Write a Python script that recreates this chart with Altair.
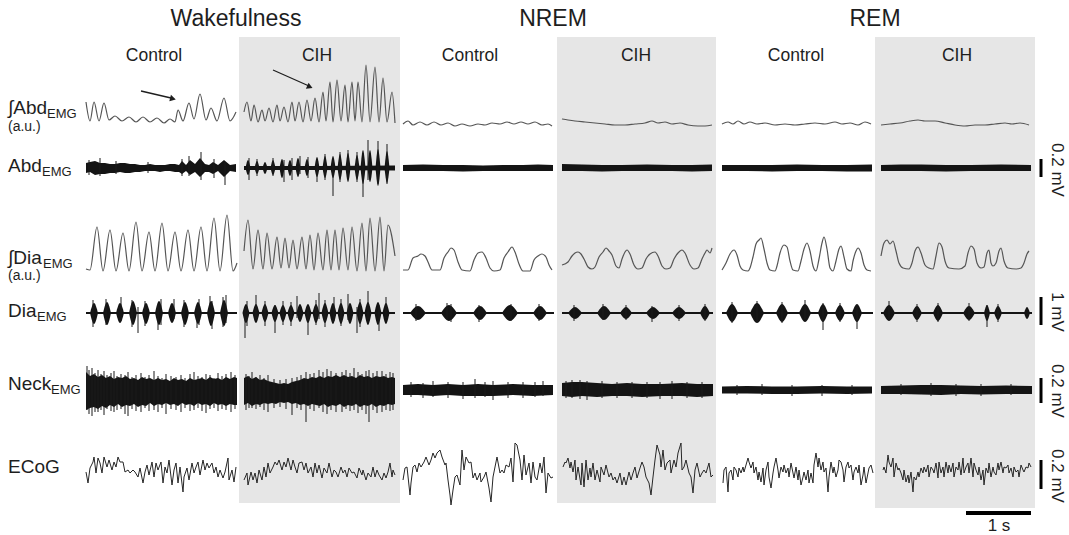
import altair as alt
import pandas as pd

W, H = 1069, 535
FONT = "Liberation Sans"
INK = "#1e1e1e"

# ---------------- data (time in samples, 65 samples = 1 s; amplitude in a.u., up = positive)
SAMPLES_PER_S = 65

# integrated abdominal EMG (vertices)
WAKE_CTRL_ABD_INT = [(0,20),(4,1),(8,20),(13,1),(18,19),(23,2),(29,6),(36,1),(43,5),(50,0),(57,5),(64,0),(71,4),(78,-1),(84,3),(89,0),(92,12),(97,1),(103,19),(108,3),(114,28),(120,2),(125,14),(131,1),(138,24),(144,1),(150,10)]
WAKE_CIH_ABD_INT = [(0,10),(3,20),(7,1),(10,17),(14,0),(18,12),(21,1),(25,14),(29,0),(33,17),(36,1),(40,15),(44,0),(48,20),(51,1),(55,20),(59,0),(63,22),(67,1),(71,24),(75,0),(79,30),(82,1),(86,40),(89,0),(93,42),(97,1),(101,37),(104,0),(108,40),(111,1),(114,40),(118,0),(122,57),(126,0),(131,55),(135,0),(139,44),(143,0),(148,30),(151,-1)]
NREM_CTRL_ABD_INT = [(0,-2),(5,1),(10,-3),(17,0),(24,-3),(31,0),(38,-3),(45,-1),(52,-4),(59,-2),(67,-4),(75,-2),(82,-3),(89,-1),(97,-2),(104,0),(111,-2),(118,0),(125,-2),(132,0),(139,-3),(145,-2),(149,-4)]
NREM_CIH_ABD_INT = [(0,3),(6,2),(13,1),(23,0),(33,-1),(43,-2),(53,-3),(63,-3),(73,-2),(83,-1),(90,1),(96,-1),(103,0),(110,-2),(118,-1),(126,-3),(136,-4),(143,-4),(150,-3)]
REM_CTRL_ABD_INT = [(0,-2),(6,0),(11,-2),(16,1),(22,-2),(28,0),(35,-2),(43,-1),(53,-3),(63,-2),(73,-3),(83,-2),(93,-1),(103,-2),(113,0),(120,-2),(128,-1),(136,-3),(143,0),(149,-2)]
REM_CIH_ABD_INT = [(0,-3),(9,-2),(19,-1),(29,1),(37,2),(44,1),(54,1),(64,-1),(74,-3),(84,-4),(94,-3),(104,-3),(114,-2),(124,-1),(131,-2),(139,-1),(148,-3)]

# integrated diaphragm EMG (vertices)
WAKE_CTRL_DIA_INT = [(0,2),(4,1),(11,44),(17,0),(24,41),(30,0),(37,38),(43,0),(50,49),(56,0),(63,39),(69,0),(76,48),(82,0),(89,39),(95,0),(102,41),(108,0),(115,44),(121,0),(128,53),(134,0),(141,56),(147,0),(151,8)]
WAKE_CIH_DIA_INT = [(0,20),(4,51),(9,2),(14,41),(19,2),(23,38),(28,2),(33,34),(37,3),(41,33),(45,3),(49,31),(53,2),(58,34),(62,2),(66,36),(70,1),(74,38),(79,1),(83,41),(87,1),(91,41),(95,1),(99,43),(104,1),(108,44),(113,0),(118,48),(122,0),(126,53),(131,0),(136,54),(140,0),(144,46),(151,15)]
NREM_CTRL_DIA_INT = [(0,1),(5,1),(10,13),(15,15),(18,17),(22,15),(25,9),(29,1),(37,1),(41,13),(45,19),(48,23),(51,21),(55,9),(59,1),(67,0),(71,11),(75,18),(79,19),(83,13),(87,3),(91,0),(97,1),(101,13),(105,19),(109,24),(112,19),(116,7),(120,0),(127,0),(131,11),(135,15),(139,17),(143,14),(146,6),(149,1)]
NREM_CIH_DIA_INT = [(0,6),(6,9),(10,15),(13,18),(16,19),(19,17),(22,12),(26,4),(30,2),(33,4),(37,14),(41,19),(44,23),(47,20),(50,16),(54,5),(57,3),(60,12),(63,19),(65,21),(68,17),(72,6),(76,2),(80,3),(84,12),(88,17),(93,19),(96,15),(100,5),(104,2),(108,3),(112,12),(116,18),(120,21),(123,18),(128,6),(132,2),(136,3),(140,12),(143,18),(145,21),(148,18),(150,23)]
REM_CTRL_DIA_INT = [(0,1),(4,8),(8,17),(12,21),(15,16),(18,5),(21,1),(26,0),(28,3),(31,14),(34,27),(37,31),(39,33),(42,22),(45,8),(48,1),(53,0),(55,5),(58,18),(62,26),(65,24),(68,10),(71,1),(76,0),(79,10),(82,22),(85,28),(88,20),(91,5),(94,0),(97,12),(100,28),(102,34),(105,22),(108,3),(111,0),(114,10),(117,22),(119,25),(122,14),(125,2),(129,0),(131,10),(134,20),(136,23),(139,18),(142,6),(145,1),(149,0)]
REM_CIH_DIA_INT = [(0,15),(3,28),(6,31),(9,27),(12,30),(15,20),(18,8),(22,3),(28,2),(31,8),(34,20),(37,24),(40,18),(44,6),(48,3),(52,2),(55,15),(58,28),(61,24),(64,10),(68,3),(78,2),(84,5),(87,18),(90,25),(93,22),(96,8),(100,3),(103,4),(106,18),(108,21),(110,8),(112,5),(115,8),(118,20),(120,23),(123,10),(127,3),(135,2),(140,3),(143,8),(146,17),(148,20)]

# ECoG (vertices)
WAKE_CTRL_ECOG = [(0,-2),(2,-13),(4,2),(7,8),(8,13),(10,-3),(12,12),(14,7),(16,-3),(18,13),(21,3),(23,10),(26,0),(28,8),(30,3),(32,13),(34,8),(37,8),(39,-2),(42,0),(44,-3),(47,0),(49,-2),(52,-7),(54,2),(57,-13),(59,-2),(61,5),(63,-5),(66,8),(68,-7),(70,7),(72,0),(75,8),(77,-13),(79,3),(81,-3),(83,10),(86,-15),(88,0),(90,7),(92,-13),(94,3),(97,-22),(98,-7),(101,2),(103,-10),(106,7),(108,-3),(110,3),(112,8),(114,-5),(117,10),(119,0),(121,7),(123,2),(126,7),(128,-3),(130,3),(132,-7),(134,0),(137,-8),(139,-2),(142,12),(143,-10),(146,0),(148,-12),(150,3)]
WAKE_CIH_ECOG = [(0,-10),(3,-3),(4,-15),(7,-2),(9,-10),(11,-3),(13,-13),(15,0),(18,-10),(20,3),(22,-7),(24,7),(26,-3),(29,3),(31,8),(33,5),(35,10),(38,0),(40,8),(42,3),(44,12),(47,0),(49,10),(51,3),(53,-3),(55,7),(58,8),(60,0),(62,7),(64,-3),(67,3),(69,-7),(71,7),(73,-3),(75,5),(78,-8),(80,2),(83,-3),(85,7),(88,-7),(90,0),(92,-2),(94,-7),(97,3),(99,-3),(101,0),(103,-7),(105,2),(108,-3),(110,-2),(113,-8),(115,2),(118,-5),(119,0),(122,-10),(124,-3),(127,-7),(129,3),(131,-7),(133,0),(135,-5),(138,-10),(140,-3),(142,-8),(144,-2),(146,7),(148,-7),(149,0),(151,-5)]
NREM_CTRL_ECOG = [(0,-10),(2,2),(4,3),(7,-25),(8,-13),(10,3),(12,5),(14,-2),(16,7),(18,3),(21,8),(23,13),(26,5),(28,10),(30,17),(32,12),(34,17),(37,20),(39,13),(42,5),(43,7),(45,-10),(47,-25),(48,-35),(50,-20),(52,-7),(54,-5),(57,-15),(59,20),(61,0),(63,13),(66,7),(68,8),(70,-8),(72,-3),(74,-10),(77,-3),(78,-12),(81,-7),(83,-2),(86,-18),(88,-32),(90,-7),(92,3),(94,13),(97,-3),(99,0),(101,-3),(103,5),(106,3),(108,12),(110,-12),(112,27),(114,25),(117,10),(119,-10),(121,15),(123,-5),(126,7),(128,-13),(130,8),(132,-7),(134,-10),(137,7),(139,-3),(141,13),(143,-23),(145,-3),(148,-8),(150,-7)]
NREM_CIH_ECOG = [(1,3),(3,8),(4,7),(6,12),(8,2),(9,8),(11,-2),(13,10),(14,-10),(16,3),(19,-15),(20,7),(22,-17),(24,10),(26,-10),(28,2),(29,-7),(31,7),(33,-10),(35,0),(38,-12),(39,3),(42,-5),(44,5),(47,-7),(49,-3),(51,-10),(53,-7),(55,-13),(58,-3),(60,-15),(62,-7),(64,-15),(67,-2),(69,-10),(71,-3),(73,3),(75,-8),(78,2),(80,8),(82,3),(84,-7),(87,-13),(89,-25),(91,-7),(93,10),(95,25),(98,15),(99,3),(101,20),(103,0),(105,7),(108,10),(109,-3),(112,10),(114,3),(116,17),(119,27),(120,0),(122,3),(124,10),(127,-3),(129,-7),(131,-23),(133,0),(135,7),(138,-7),(140,-3),(142,0),(144,-3),(147,7),(149,-7),(151,-5)]
REM_CTRL_ECOG = [(1,-13),(2,0),(4,3),(6,-22),(7,-3),(9,0),(11,-10),(12,3),(14,0),(16,-7),(17,2),(19,-3),(21,3),(22,-2),(24,5),(26,12),(27,8),(29,2),(31,8),(32,-3),(34,3),(36,-10),(37,-2),(39,-12),(41,2),(42,-15),(44,0),(46,8),(47,-7),(49,-18),(51,-3),(52,3),(54,12),(56,0),(57,-8),(59,3),(61,-2),(62,5),(64,-3),(66,2),(67,-7),(69,7),(71,-3),(72,-8),(74,3),(76,-10),(77,0),(79,-15),(81,-7),(82,-2),(84,-10),(86,0),(87,-13),(89,-3),(91,-13),(92,5),(94,17),(96,3),(97,12),(99,0),(101,8),(102,-2),(104,2),(106,-22),(107,-7),(109,8),(111,-3),(112,3),(114,-7),(116,0),(117,10),(119,8),(121,0),(122,-12),(124,3),(126,8),(127,2),(129,5),(131,-10),(132,-2),(134,3),(136,-3),(137,5),(139,-15),(141,-5),(142,3),(144,-13),(146,-3),(147,2),(149,5),(151,-3)]
REM_CIH_ECOG = [(2,0),(3,3),(5,-3),(7,15),(8,8),(10,3),(12,12),(13,-7),(15,7),(17,0),(18,2),(20,-3),(22,-10),(23,0),(25,-12),(27,-5),(28,-13),(30,-2),(32,-22),(33,-7),(35,-10),(37,-2),(38,-7),(40,2),(42,-3),(43,3),(45,-2),(47,5),(48,-7),(50,3),(52,0),(53,-3),(55,7),(57,-8),(58,8),(60,-3),(62,3),(63,-7),(65,8),(67,-3),(68,5),(70,-2),(72,7),(73,-7),(75,3),(77,0),(78,8),(80,-5),(82,12),(83,-3),(85,3),(87,7),(88,-3),(90,12),(92,-7),(93,7),(95,0),(97,-5),(98,3),(100,-10),(102,0),(103,-15),(105,2),(107,-3),(108,7),(110,-7),(112,3),(113,-2),(115,-5),(117,7),(118,0),(120,8),(122,-3),(123,3),(125,2),(127,5),(128,-3),(130,2),(132,-7),(133,3),(135,-2),(137,0),(138,-7),(140,5),(142,0),(143,-2),(145,3),(147,2),(148,7),(150,3)]

# abdominal EMG: tonic envelope (t, up, down), bursts (t, half-width, up, down), spikes (t, up, down)
WAKE_CTRL_ABD_ENV = [(0,5,5),(4,6,4),(9,7,7),(14,5,6),(19,5,6),(24,4,5),(29,4,5),(34,5,4),(39,5,5),(44,4,5),(49,4,4),(54,3,4),(59,3,3),(64,4,3),(69,3,3),(74,3,4),(79,3,3),(84,4,3),(89,4,4),(93,3,4),(96,7,6),(100,3,3),(104,8,7),(109,4,4),(114,10,9),(119,4,4),(123,3,4),(127,6,6),(132,3,3),(138,8,9),(144,3,3),(150,4,4)]
WAKE_CIH_ABD_ENV = [(0,2,2),(75,2,2),(151,2.5,2.5)]
NREM_CTRL_ABD_ENV = [(0,3,3),(20,3.5,3),(40,3,3),(60,3,3.5),(80,2.5,3),(100,3,3),(120,3,3),(135,3.5,3),(150,3,3)]
NREM_CIH_ABD_ENV = [(0,4,3),(20,3.5,3),(40,3,3.5),(60,3,3),(85,3.5,3),(110,3,3),(130,3,3.5),(150,3.5,3)]
REM_CTRL_ABD_ENV = [(0,3,3),(25,3,3),(50,3,3.5),(75,3.5,3),(100,3,3),(125,3,3.5),(150,3.5,3.5)]
REM_CIH_ABD_ENV = [(0,3,3),(20,3.5,3),(40,3.5,3),(65,3,3.5),(90,3,3),(120,3.5,3),(150,3,3)]
WAKE_CTRL_ABD_BURSTS = []
WAKE_CIH_ABD_BURSTS = [(4,2.5,8,7),(13,2.5,7,6),(21,2.5,6,6),(29,2.5,8,7),(38,2.5,9,10),(46,2.5,8,8),(54,2.5,10,9),(63,2.5,9,8),(73,2.5,11,9),(81,2.5,12,10),(89,2.5,12,10),(96,2.5,14,12),(104,2.5,15,14),(113,2.5,13,12),(119,2.5,18,16),(126,2.5,18,14),(134,2.5,19,18),(143,2.5,17,15)]
WAKE_CTRL_ABD_SPIKES = [(3,8,7),(14,10,8),(30,7,6),(62,6,5),(96,9,8),(103,12,8),(115,16,12),(128,9,10),(139,6,17)]
WAKE_CIH_ABD_SPIKES = [(5,10,12),(13,9,8),(29,10,8),(40,8,14),(48,10,12),(56,12,6),(64,11,10),(73,6,14),(81,14,12),(89,8,28),(96,16,14),(104,18,10),(113,16,14),(119,10,29),(124,28,12),(134,27,16),(143,24,16)]

# diaphragm EMG: bursts (t, half-width, up, down), spikes (t, up, down)
WAKE_CTRL_DIA_BURSTS = [(8,4,10,11),(21,4,11,12),(34,4,10,10),(47,4,12,12),(60,4,10,11),(73,4,12,12),(86,4,10,10),(99,4,11,12),(112,4,11,11),(125,4,12,13),(138,4,13,13)]
WAKE_CIH_DIA_BURSTS = [(2,3.5,9,10),(12,3.5,9,10),(21,3.5,9,9),(31,3.5,8,9),(39,3.5,8,9),(47,3.5,8,9),(56,3.5,9,9),(64,3.5,9,10),(72,3.5,9,10),(81,3.5,10,10),(89,3.5,10,11),(97,3.5,10,11),(106,3.5,10,11),(116,3.5,11,11),(124,3.5,11,12),(134,3.5,11,12),(142,3.5,10,11)]
NREM_CTRL_DIA_BURSTS = [(15,8,7,7),(46,8,8,8),(77,7,7,7),(107,8,8,8),(137,7,7,7)]
NREM_CIH_DIA_BURSTS = [(13,7,6,6),(42,7,7,7),(64,6,6,6),(91,7,6,6),(117,7,6,6),(143,5,7,7)]
REM_CTRL_DIA_BURSTS = [(10,6,9,9),(35,7,10,10),(60,6,9,9),(83,6,9,9),(101,5,9,9),(118,5,8,8),(135,5,9,9)]
REM_CIH_DIA_BURSTS = [(8,6,8,8),(36,5,7,7),(57,5,8,8),(88,6,7,7),(106,3,8,8),(117,4,7,7),(146,3,6,6)]
WAKE_CTRL_DIA_SPIKES = [(7,13,14),(20,14,12),(35,16,8),(46,13,14),(52,6,20),(59,12,13),(72,8,17),(75,14,12),(88,14,6),(98,13,14),(111,6,15),(113,14,12),(124,17,7),(126,12,16),(137,16,14),(140,18,10)]
WAKE_CIH_DIA_SPIKES = [(1,5,25),(3,12,13),(12,18,6),(21,12,13),(31,8,20),(39,12,12),(47,11,13),(53,17,5),(64,6,22),(72,13,12),(75,20,6),(81,13,14),(90,16,8),(97,14,13),(104,19,7),(113,6,20),(116,14,14),(124,22,6),(135,8,18),(142,16,5)]
NREM_CTRL_DIA_SPIKES = [(13,9,8),(44,10,6),(48,9,9),(76,8,9),(108,9,8),(136,9,8)]
NREM_CIH_DIA_SPIKES = [(12,8,8),(41,9,7),(64,8,7),(90,7,9),(117,8,8),(143,9,8)]
REM_CTRL_DIA_SPIKES = [(10,11,10),(35,12,9),(60,11,10),(83,13,6),(101,10,17),(118,10,9),(135,8,16)]
REM_CIH_DIA_SPIKES = [(8,12,7),(36,9,9),(57,10,9),(88,10,8),(106,8,14),(117,9,9)]
DIA_BASELINE = [(0,1,1),(151,1,1)]

# neck EMG: envelope (t, up, down), spikes (t, up, down)
WAKE_CTRL_NECK_ENV = [(0,18,20),(4,14,18),(8,16,17),(12,13,19),(16,15,16),(20,12,18),(24,14,15),(28,11,17),(32,13,14),(36,12,17),(40,14,15),(44,11,16),(48,12,14),(52,10,17),(56,13,15),(60,11,16),(64,12,13),(68,10,16),(72,12,14),(76,10,15),(80,11,13),(84,9,15),(88,12,14),(92,10,16),(96,11,13),(100,9,15),(104,12,14),(108,10,16),(112,11,13),(116,12,15),(120,10,14),(124,13,16),(128,11,13),(132,12,15),(136,10,14),(140,13,16),(144,11,14),(148,13,15),(151,12,15)]
WAKE_CIH_NECK_ENV = [(0,12,15),(4,14,13),(8,11,16),(12,13,14),(16,10,15),(20,11,13),(24,9,14),(28,8,13),(32,7,14),(36,6,12),(40,7,13),(44,6,12),(48,8,14),(52,9,13),(56,10,15),(60,12,14),(64,11,16),(68,13,14),(72,12,15),(76,14,16),(80,12,14),(84,14,17),(88,13,15),(92,15,16),(96,13,14),(100,15,17),(104,13,15),(108,14,16),(112,12,14),(116,15,17),(120,13,15),(124,14,16),(128,12,14),(132,14,17),(136,13,15),(140,14,16),(144,12,14),(148,13,15),(151,12,14)]
NREM_CTRL_NECK_ENV = [(0,5,5),(15,6,5),(30,5,6),(45,6,5),(60,5,6),(75,6,6),(90,5,6),(110,6,5),(130,5,6),(150,5,5)]
NREM_CIH_NECK_ENV = [(0,7,6),(10,8,7),(20,8,6),(35,7,7),(50,6,6),(65,7,6),(80,6,7),(100,6,6),(120,7,6),(135,6,7),(151,6,6)]
REM_CTRL_NECK_ENV = [(0,3.5,3.5),(25,4,3.5),(50,3.5,4),(75,3.5,4),(100,4,3.5),(125,3.5,4),(150,3.5,3.5)]
REM_CIH_NECK_ENV = [(0,4,4),(20,4.5,4),(40,5,4.5),(60,5,5),(80,4.5,4),(100,4,4.5),(125,4.5,4),(151,4,4)]
WAKE_CTRL_NECK_SPIKES = [(1,24,20),(3,20,24),(6,22,26),(9,17,22),(12,20,22),(15,16,20),(18,19,25),(21,15,19),(25,17,21),(28,19,22),(31,14,20),(35,16,19),(39,15,24),(42,18,26),(46,13,19),(50,15,21),(55,17,22),(59,13,18),(63,15,21),(68,19,20),(72,14,22),(76,12,18),(80,16,24),(85,14,19),(90,13,20),(95,15,22),(99,12,18),(104,16,21),(108,18,20),(112,14,18),(116,13,21),(120,16,23),(124,15,19),(128,12,18),(132,17,21),(136,14,19),(140,16,20),(145,18,22),(149,15,19)]
WAKE_CIH_NECK_SPIKES = [(2,16,20),(5,14,18),(8,18,18),(12,13,19),(16,15,17),(20,12,20),(24,15,22),(30,11,18),(36,10,17),(42,11,19),(48,12,25),(53,13,18),(57,15,20),(62,18,32),(66,16,19),(70,17,21),(75,20,18),(79,18,22),(83,21,24),(87,19,20),(92,17,22),(98,18,22),(102,20,19),(106,17,21),(110,22,20),(114,18,23),(118,16,20),(122,19,24),(125,20,32),(129,17,20),(133,19,23),(138,19,22),(142,16,20),(146,18,21),(149,17,20)]
NREM_CTRL_NECK_SPIKES = [(8,8,7),(20,7,8),(30,9,7),(45,8,8),(60,8,9),(72,11,8),(82,8,7),(90,9,10),(105,8,8),(120,8,8),(132,8,7),(140,9,6)]
NREM_CIH_NECK_SPIKES = [(4,9,8),(10,10,8),(18,10,9),(25,9,10),(40,9,8),(55,8,8),(70,8,8),(85,8,8),(98,8,9),(110,9,9),(125,8,8),(140,8,8)]
REM_CTRL_NECK_SPIKES = [(15,5,5),(40,6,5),(70,5,6),(100,5,6),(130,5,5)]
REM_CIH_NECK_SPIKES = [(20,6,5),(50,7,6),(75,6,6),(100,6,6),(130,6,5)]

# ---------------- layout (px)
PANEL_X0 = [86, 244, 403, 562, 722, 881]
ABD_INT_Y0, ABD_EMG_Y0, DIA_INT_Y0, DIA_EMG_Y0, NECK_Y0, ECOG_Y0 = 122, 168, 271, 313, 390, 470

ABD_INT = [WAKE_CTRL_ABD_INT, WAKE_CIH_ABD_INT, NREM_CTRL_ABD_INT, NREM_CIH_ABD_INT, REM_CTRL_ABD_INT, REM_CIH_ABD_INT]
DIA_INT = [WAKE_CTRL_DIA_INT, WAKE_CIH_DIA_INT, NREM_CTRL_DIA_INT, NREM_CIH_DIA_INT, REM_CTRL_DIA_INT, REM_CIH_DIA_INT]
ECOG = [WAKE_CTRL_ECOG, WAKE_CIH_ECOG, NREM_CTRL_ECOG, NREM_CIH_ECOG, REM_CTRL_ECOG, REM_CIH_ECOG]
ABD_ENV = [WAKE_CTRL_ABD_ENV, WAKE_CIH_ABD_ENV, NREM_CTRL_ABD_ENV, NREM_CIH_ABD_ENV, REM_CTRL_ABD_ENV, REM_CIH_ABD_ENV]
ABD_BURSTS = [WAKE_CTRL_ABD_BURSTS, WAKE_CIH_ABD_BURSTS, [], [], [], []]
ABD_SPIKES = [WAKE_CTRL_ABD_SPIKES, WAKE_CIH_ABD_SPIKES, [], [], [], []]
DIA_BURSTS = [WAKE_CTRL_DIA_BURSTS, WAKE_CIH_DIA_BURSTS, NREM_CTRL_DIA_BURSTS, NREM_CIH_DIA_BURSTS, REM_CTRL_DIA_BURSTS, REM_CIH_DIA_BURSTS]
DIA_SPIKES = [WAKE_CTRL_DIA_SPIKES, WAKE_CIH_DIA_SPIKES, NREM_CTRL_DIA_SPIKES, NREM_CIH_DIA_SPIKES, REM_CTRL_DIA_SPIKES, REM_CIH_DIA_SPIKES]
NECK_ENV = [WAKE_CTRL_NECK_ENV, WAKE_CIH_NECK_ENV, NREM_CTRL_NECK_ENV, NREM_CIH_NECK_ENV, REM_CTRL_NECK_ENV, REM_CIH_NECK_ENV]
NECK_SPIKES = [WAKE_CTRL_NECK_SPIKES, WAKE_CIH_NECK_SPIKES, NREM_CTRL_NECK_SPIKES, NREM_CIH_NECK_SPIKES, REM_CTRL_NECK_SPIKES, REM_CIH_NECK_SPIKES]


def line_rows(pts, x0, y0, name):
    return [{"id": name, "x": x0 + t, "y": y0 - a} for t, a in pts]


def env_rows(env, x0, y0, name):
    return [{"id": name, "x": x0 + t, "y": y0 - up, "y2": y0 + dn} for t, up, dn in env]


def burst_rows(bursts, x0, y0, name):
    rows = []
    for k, (t, hw, up, dn) in enumerate(bursts):
        bid = f"{name}_{k}"
        rows += [{"id": bid, "x": x0 + t - hw, "y": y0, "y2": y0},
                 {"id": bid, "x": x0 + t, "y": y0 - up, "y2": y0 + dn},
                 {"id": bid, "x": x0 + t + hw, "y": y0, "y2": y0}]
    return rows


def spike_rows(spikes, x0, y0):
    return [{"x": x0 + t, "y": y0 - up, "y2": y0 + dn} for t, up, dn in spikes]


int_rows, ecog_rows, band_rows, bursts_all, spikes_all = [], [], [], [], []
for i, x0 in enumerate(PANEL_X0):
    int_rows += line_rows(ABD_INT[i], x0, ABD_INT_Y0, f"abd{i}")
    int_rows += line_rows(DIA_INT[i], x0, DIA_INT_Y0, f"dia{i}")
    ecog_rows += line_rows(ECOG[i], x0, ECOG_Y0, f"ecog{i}")
    band_rows += env_rows(ABD_ENV[i], x0, ABD_EMG_Y0, f"abdenv{i}")
    band_rows += env_rows(NECK_ENV[i], x0, NECK_Y0, f"neckenv{i}")
    band_rows += env_rows(DIA_BASELINE, x0, DIA_EMG_Y0, f"diabase{i}")
    bursts_all += burst_rows(ABD_BURSTS[i], x0, ABD_EMG_Y0, f"abdb{i}")
    bursts_all += burst_rows(DIA_BURSTS[i], x0, DIA_EMG_Y0, f"diab{i}")
    spikes_all += spike_rows(ABD_SPIKES[i], x0, ABD_EMG_Y0)
    spikes_all += spike_rows(DIA_SPIKES[i], x0, DIA_EMG_Y0)
    spikes_all += spike_rows(NECK_SPIKES[i], x0, NECK_Y0)

XS = alt.Scale(domain=[0, W], nice=False, zero=False)
YS = alt.Scale(domain=[0, H], reverse=True, nice=False, zero=False)
X = alt.X("x:Q", scale=XS, axis=None)
Y = alt.Y("y:Q", scale=YS, axis=None)

# grey background boxes for CIH
boxes = pd.DataFrame({"x": [239, 557, 875], "x2": [400, 716, 1035], "y": [37, 37, 37], "y2": [503, 503, 508]})
box_layer = alt.Chart(boxes).mark_rect(color="#e6e6e6").encode(x=X, x2="x2:Q", y=Y, y2="y2:Q")

int_layer = alt.Chart(pd.DataFrame(int_rows)).mark_line(
    color="#555555", strokeWidth=1.2, interpolate="monotone").encode(x=X, y=Y, detail="id:N")
ecog_layer = alt.Chart(pd.DataFrame(ecog_rows)).mark_line(
    color="#262626", strokeWidth=1.0).encode(x=X, y=Y, detail="id:N")
band_layer = alt.Chart(pd.DataFrame(band_rows)).mark_area(
    color="#141414", interpolate="linear").encode(x=X, y=Y, y2="y2:Q", detail="id:N")
burst_layer = alt.Chart(pd.DataFrame(bursts_all)).mark_area(
    color="#141414", interpolate="monotone").encode(x=X, y=Y, y2="y2:Q", detail="id:N")
spike_layer = alt.Chart(pd.DataFrame(spikes_all)).mark_rule(
    color="#1a1a1a", strokeWidth=1.0).encode(x=X, y=Y, y2="y2:Q")

# arrows
arrows = pd.DataFrame({"x": [141, 273], "y": [91, 70], "x2": [171, 309], "y2": [98, 86]})
arrow_line = alt.Chart(arrows).mark_rule(color=INK, strokeWidth=1.3).encode(x=X, y=Y, x2="x2:Q", y2="y2:Q")
heads = pd.DataFrame({"x": [172, 309], "y": [98.5, 86.5], "ang": [104, 114]})
arrow_head = alt.Chart(heads).mark_point(shape="triangle", filled=True, color=INK, size=45, opacity=1).encode(
    x=X, y=Y, angle=alt.Angle("ang:Q", scale=None))

# scale bars
bars = pd.DataFrame({"x": [1041, 1041, 1041, 1041], "y": [159, 297, 378, 460], "y2": [177, 325, 403, 489]})
bar_layer = alt.Chart(bars).mark_rule(color="#000000", strokeWidth=3).encode(x=X, y=Y, y2="y2:Q")
tbar = pd.DataFrame({"x": [966], "x2": [1031], "y": [513]})
tbar_layer = alt.Chart(tbar).mark_rule(color="#000000", strokeWidth=4).encode(x=X, x2="x2:Q", y=Y)

# texts
titles = pd.DataFrame({"x": [236, 553, 875], "y": [19, 19, 19], "t": ["Wakefulness", "NREM", "REM"]})
title_layer = alt.Chart(titles).mark_text(font=FONT, fontSize=23, color=INK, align="center", baseline="middle").encode(
    x=X, y=Y, text="t:N")
subs = pd.DataFrame({"x": [154, 317, 470, 636, 796, 957], "y": [56] * 6,
                     "t": ["Control", "CIH", "Control", "CIH", "Control", "CIH"]})
sub_layer = alt.Chart(subs).mark_text(font=FONT, fontSize=17.5, color=INK, align="center", baseline="middle").encode(
    x=X, y=Y, text="t:N")

row_main = pd.DataFrame({"x": [8, 8, 8, 8, 8, 8], "y": [108, 166, 258, 311, 384, 467],
                         "t": ["\u222bAbd", "Abd", "\u222bDia", "Dia", "Neck", "ECoG"]})
row_main_layer = alt.Chart(row_main).mark_text(font=FONT, fontSize=19, color=INK, align="left", baseline="middle").encode(
    x=X, y=Y, text="t:N")
row_sub = pd.DataFrame({"x": [47, 42, 43, 37, 51], "y": [114, 172, 264, 317, 390], "t": ["EMG"] * 5})
row_sub_layer = alt.Chart(row_sub).mark_text(font=FONT, fontSize=13, color=INK, align="left", baseline="middle").encode(
    x=X, y=Y, text="t:N")
au = pd.DataFrame({"x": [8, 8], "y": [127, 276], "t": ["(a.u.)", "(a.u.)"]})
au_layer = alt.Chart(au).mark_text(font=FONT, fontSize=14, color=INK, align="left", baseline="middle").encode(
    x=X, y=Y, text="t:N")

bar_txt = pd.DataFrame({"x": [1057, 1057, 1057, 1057], "y": [170, 312, 391, 476],
                        "t": ["0.2 mV", "1 mV", "0.2 mV", "0.2 mV"]})
bar_txt_layer = alt.Chart(bar_txt).mark_text(font=FONT, fontSize=17, color=INK, align="center", baseline="middle",
                                             angle=90).encode(x=X, y=Y, text="t:N")
s_txt = pd.DataFrame({"x": [999], "y": [526], "t": ["1 s"]})
s_txt_layer = alt.Chart(s_txt).mark_text(font=FONT, fontSize=17, color=INK, align="center", baseline="middle").encode(
    x=X, y=Y, text="t:N")

chart = alt.layer(
    box_layer, int_layer, band_layer, burst_layer, spike_layer, ecog_layer,
    arrow_line, arrow_head, bar_layer, tbar_layer,
    title_layer, sub_layer, row_main_layer, row_sub_layer, au_layer, bar_txt_layer, s_txt_layer,
).properties(
    width=W, height=H, padding=0, autosize=alt.AutoSizeParams(type="none"), background="white"
).configure_view(stroke=None)

chart.save("out.html", embed_options={"renderer": "svg", "actions": False})
